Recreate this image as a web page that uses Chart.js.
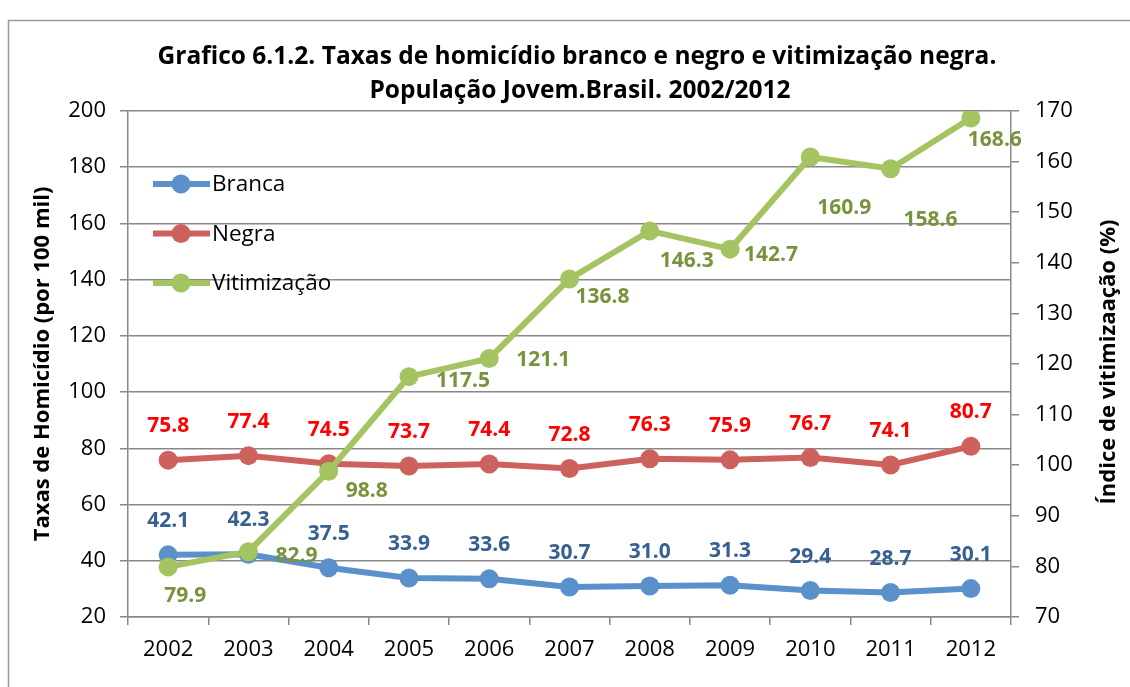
<!DOCTYPE html>
<html>
<head>
<meta charset="utf-8">
<script src="https://cdn.jsdelivr.net/npm/chart.js@4.4.1/dist/chart.umd.min.js"></script>
<style>
  html, body { margin: 0; padding: 0; background: #fff; }
  #wrap { width: 1130px; height: 687px; position: relative; }
</style>
</head>
<body>
<div id="wrap"><canvas id="grafico" width="1130" height="687"></canvas></div>
<script>
// Taxas de homicídio por cor e índice de vitimização, 2002-2012
const years = ["2002", "2003", "2004", "2005", "2006", "2007", "2008", "2009", "2010", "2011", "2012"];
const branca = [42.1, 42.3, 37.5, 33.9, 33.6, 30.7, 31.0, 31.3, 29.4, 28.7, 30.1];
const negra = [75.8, 77.4, 74.5, 73.7, 74.4, 72.8, 76.3, 75.9, 76.7, 74.1, 80.7];
const vitimizacao = [79.9, 82.9, 98.8, 117.5, 121.1, 136.8, 146.3, 142.7, 160.9, 158.6, 168.6];

const taxaTicks = { min: 20, max: 200, step: 20 };
const indiceTicks = { min: 70, max: 170, step: 10 };

const titleLines = [
  "Grafico 6.1.2. Taxas de homicídio branco e negro e vitimização negra.",
  "População Jovem.Brasil. 2002/2012",
];
const leftTitle = "Taxas de Homicídio (por 100 mil)";
const rightTitle = "Índice de vitimizaação (%)";

// where each green value label sits relative to its point (hand placed)
const vitLabelShift = [
  [17, 29], [48, 4], [38, 20], [54, 4], [54, 2], [33, 18],
  [37, 30], [41, 6], [34, 51], [40, 51], [24, 22],
];

const FONT = "'Open Sans', sans-serif";
const AXIS_GRAY = "#888888";

Chart.defaults.font.family = FONT;
Chart.defaults.color = "#000";

const series = [
  { label: "Branca", data: branca, color: "#5B91CB", text: "#376092", axis: "y", order: 2 },
  { label: "Negra", data: negra, color: "#CD615C", text: "#FF0000", axis: "y", order: 1 },
  { label: "Vitimização", data: vitimizacao, color: "#A4C462", text: "#77933C", axis: "y1", order: 0 },
];

// frame, titles, legend and value labels
const decorations = {
  id: "decorations",
  beforeDraw(chart) {
    const ctx = chart.ctx;
    ctx.save();
    ctx.fillStyle = "#fff";
    ctx.fillRect(0, 0, chart.width, chart.height);
    ctx.strokeStyle = "#9a9a9a";
    ctx.lineWidth = 1.5;
    ctx.strokeRect(8.5, 20.5, 2000, 2000);
    ctx.restore();
  },
  afterDraw(chart) {
    const ctx = chart.ctx;
    ctx.save();

    // chart title
    ctx.fillStyle = "#000";
    ctx.textAlign = "center";
    ctx.textBaseline = "middle";
    ctx.font = "bold 24.5px " + FONT;
    ctx.fillText(titleLines[0], 577, 57);
    ctx.fillText(titleLines[1], 580, 91);

    // axis titles, both read bottom to top
    ctx.font = "bold 22px " + FONT;
    ctx.save();
    ctx.translate(43, 364);
    ctx.rotate(-Math.PI / 2);
    ctx.fillText(leftTitle, 0, 0);
    ctx.restore();
    ctx.save();
    ctx.translate(1109, 362);
    ctx.rotate(-Math.PI / 2);
    ctx.fillText(rightTitle, 0, 0);
    ctx.restore();

    // legend
    ctx.font = "22.5px " + FONT;
    ctx.textAlign = "left";
    series.forEach((s, i) => {
      const y = 184 + i * 49.5;
      ctx.strokeStyle = s.color;
      ctx.lineWidth = 6;
      ctx.beginPath();
      ctx.moveTo(153, y);
      ctx.lineTo(210, y);
      ctx.stroke();
      ctx.fillStyle = s.color;
      ctx.beginPath();
      ctx.arc(181, y, 9.5, 0, Math.PI * 2);
      ctx.fill();
      ctx.fillStyle = "#000";
      ctx.fillText(s.label, 212, y + 1);
    });

    // value labels
    ctx.font = "bold 21px " + FONT;
    ctx.textAlign = "center";
    chart.data.datasets.forEach((ds, di) => {
      const meta = chart.getDatasetMeta(di);
      meta.data.forEach((pt, i) => {
        let dx = 0, dy = -34;
        if (ds.yAxisID === "y1") [dx, dy] = vitLabelShift[i];
        ctx.fillStyle = series[di].text;
        ctx.fillText(ds.data[i].toFixed(1), pt.x + dx, pt.y + dy);
      });
    });
    ctx.restore();
  },
};

const gridCommon = { color: AXIS_GRAY, lineWidth: 1.5, tickLength: 8 };
const borderCommon = { color: AXIS_GRAY, width: 1.5 };

new Chart(document.getElementById("grafico"), {
  type: "line",
  data: {
    labels: years,
    datasets: series.map((s) => ({
      label: s.label,
      data: s.data,
      yAxisID: s.axis,
      order: s.order,
      borderColor: s.color,
      backgroundColor: s.color,
      borderWidth: 6,
      pointRadius: 9.5,
      pointHoverRadius: 9.5,
      pointBorderWidth: 0,
      tension: 0,
    })),
  },
  options: {
    responsive: false,
    animation: false,
    layout: { padding: { top: 111, left: 0, right: 0, bottom: 0 } },
    plugins: { legend: { display: false }, title: { display: false }, tooltip: { enabled: false } },
    scales: {
      x: {
        offset: true,
        grid: { ...gridCommon, offset: true, drawOnChartArea: false },
        border: borderCommon,
        ticks: { font: { size: 22 }, padding: 12, maxRotation: 0 },
        afterFit: (s) => { s.height = 70; },
      },
      y: {
        position: "left",
        min: taxaTicks.min,
        max: taxaTicks.max,
        grid: gridCommon,
        border: borderCommon,
        ticks: { stepSize: taxaTicks.step, font: { size: 22 }, padding: 14 },
        afterFit: (s) => { s.width = 128; },
      },
      y1: {
        position: "right",
        min: indiceTicks.min,
        max: indiceTicks.max,
        grid: { ...gridCommon, drawOnChartArea: false },
        border: borderCommon,
        ticks: { stepSize: indiceTicks.step, font: { size: 22 }, padding: 16 },
        afterFit: (s) => { s.width = 119; },
      },
    },
  },
  plugins: [decorations],
});
</script>
</body>
</html>
